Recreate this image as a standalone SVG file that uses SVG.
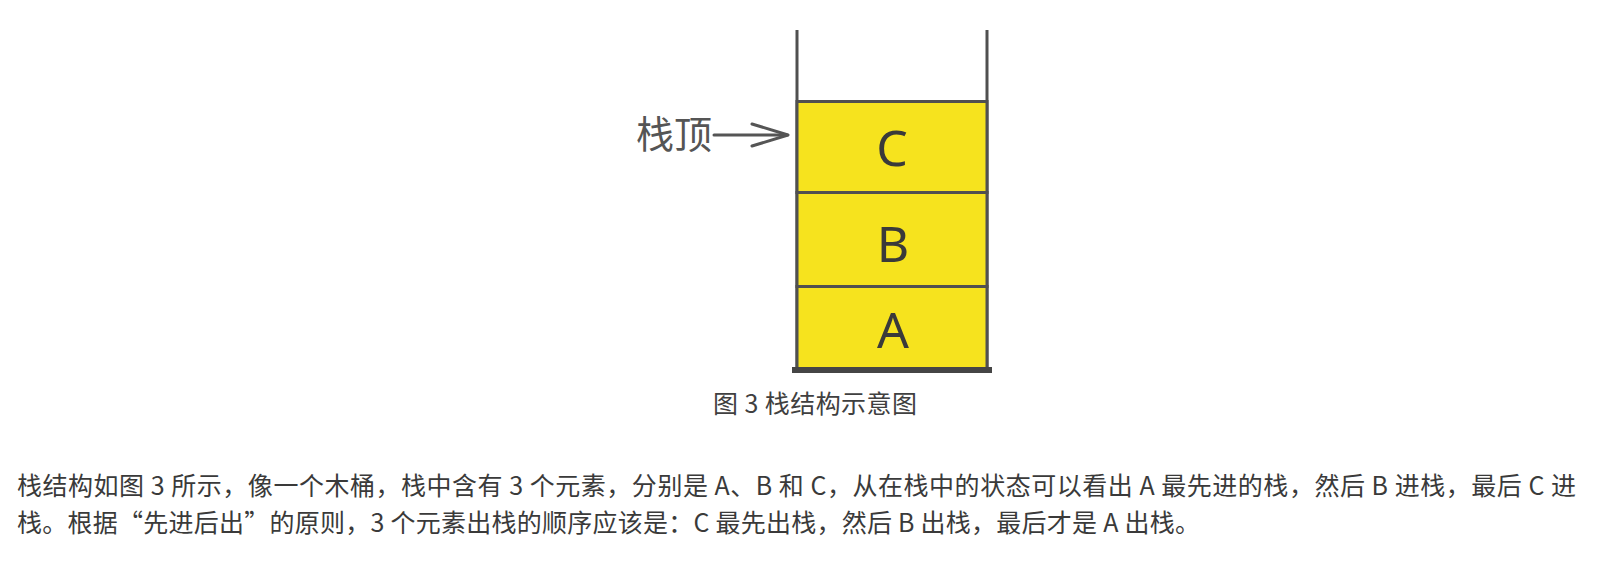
<svg xmlns="http://www.w3.org/2000/svg" width="1601" height="570" viewBox="0 0 1601 570">
<style>
.cell{fill:#F6E31E;stroke:#505050;stroke-width:3}
.wall{stroke:#505050;stroke-width:3;fill:none}
.base{stroke:#454545;stroke-width:6;fill:none}
.letter{font-family:"Noto Sans","Open Sans",sans-serif;font-size:50px;fill:#3a3a3a;text-anchor:middle}
.label{font-family:"Noto Sans CJK SC","Noto Sans",sans-serif;font-size:38px;fill:#555555}
.arrow{stroke:#555555;stroke-width:3;fill:none;stroke-linecap:round;stroke-linejoin:round}
.caption{font-family:"Noto Sans CJK SC","Noto Sans",sans-serif;font-size:25px;fill:#404040}
.body{font-family:"Noto Sans CJK SC","Noto Sans",sans-serif;font-size:25px;fill:#3a3a3a}
</style>
<rect width="1601" height="570" fill="#ffffff"/>
<g id="stack">
  <line class="wall" x1="797" y1="30" x2="797" y2="370"/>
  <line class="wall" x1="987" y1="30" x2="987" y2="370"/>
</g>
<g id="cell-C">
  <rect class="cell" x="797" y="101.5" width="190" height="91"/>
  <text class="letter" x="892" y="166">C</text>
</g>
<g id="cell-B">
  <rect class="cell" x="797" y="192.5" width="190" height="94"/>
  <text class="letter" x="893" y="261.5">B</text>
</g>
<g id="cell-A">
  <rect class="cell" x="797" y="286.5" width="190" height="83.5"/>
  <text class="letter" x="893" y="348">A</text>
</g>
<g id="stack-base">
  <line class="base" x1="792" y1="370" x2="992" y2="370"/>
</g>
<g id="top-label">
  <text class="label" x="636" y="148">栈顶</text>
</g>
<g id="connectors">
  <line class="arrow" x1="714" y1="135" x2="787" y2="135"/>
  <polyline class="arrow" points="752,124 788,135 752,146"/>
</g>
<g id="caption">
  <text class="caption" x="713" y="413" textLength="204" lengthAdjust="spacing">图 3 栈结构示意图</text>
</g>
<g id="paragraph">
  <text class="body" x="17" y="495" textLength="1559" lengthAdjust="spacing">栈结构如图 3 所示，像一个木桶，栈中含有 3 个元素，分别是 A、B 和 C，从在栈中的状态可以看出 A 最先进的栈，然后 B 进栈，最后 C 进</text>
  <text class="body" x="17" y="532" textLength="1183" lengthAdjust="spacing">栈。根据“先进后出”的原则，3 个元素出栈的顺序应该是：C 最先出栈，然后 B 出栈，最后才是 A 出栈。</text>
</g>
</svg>
